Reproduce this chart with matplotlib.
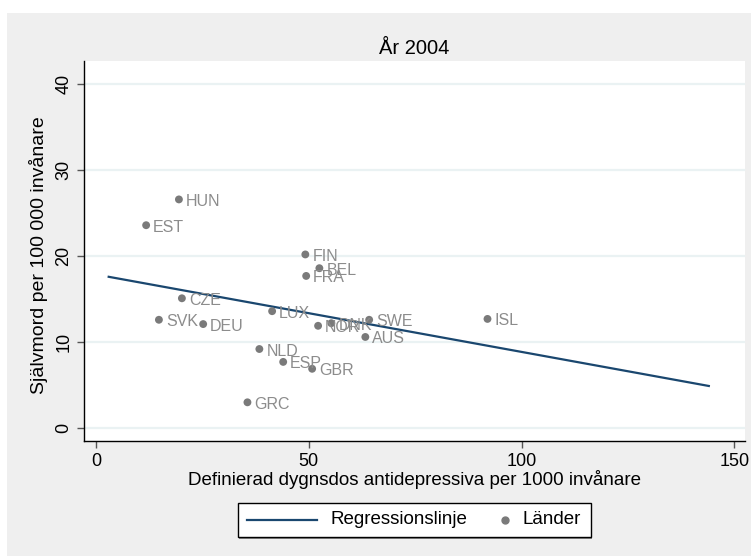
import numpy as np
import matplotlib.pyplot as plt
from matplotlib.patches import Rectangle
from matplotlib.lines import Line2D

# ===============================
# DATA
# ===============================
countries = ["HUN", "EST", "FIN", "BEL", "FRA", "CZE", "SVK", "DEU", "LUX",
             "NOR", "DNK", "SWE", "AUS", "ISL", "NLD", "ESP", "GBR", "GRC"]
ddd = [19.5, 11.8, 49.2, 52.5, 49.4, 20.2, 14.8, 25.2, 41.4,
       52.2, 55.3, 64.2, 63.3, 92.0, 38.4, 44.0, 50.8, 35.6]
suicide = [26.6, 23.6, 20.2, 18.6, 17.7, 15.1, 12.6, 12.1, 13.6,
           11.9, 12.2, 12.6, 10.6, 12.7, 9.2, 7.7, 6.9, 3.0]

# regression line end points
reg_x = [3.0, 144.0]
reg_y = [17.6, 4.9]

x_ticks = [0, 50, 100, 150]
y_ticks = [0, 10, 20, 30, 40]

legend_labels = ["Regressionslinje", "Länder"]

plt.rcParams["font.family"] = ["Liberation Sans", "DejaVu Sans"]

LINE_COL = "#1a476f"
DOT_COL = "#7a7a7a"
LAB_COL = "#8c8c8c"
BG = "#efefef"

# ===============================
# FIGURE
# ===============================
W, H = 751, 556
fig = plt.figure(figsize=(W / 100, H / 100), dpi=100)
fig.patch.set_facecolor("white")


def fx(x):
    return x / W


def fy(y):
    return 1 - y / H


fig.patches.append(Rectangle((fx(7), 0), 1 - fx(7), fy(13),
                             transform=fig.transFigure, facecolor=BG,
                             edgecolor="none", zorder=-10))

ax = fig.add_axes([fx(84), fy(441), fx(745 - 84), (441 - 61) / H])
ax.set_facecolor("white")

for y in y_ticks:
    ax.axhline(y, color="#eaf2f3", lw=1.6, zorder=0)

ax.plot(reg_x, reg_y, color=LINE_COL, lw=1.6, zorder=2)
ax.scatter(ddd, suicide, s=32, color=DOT_COL, edgecolors="none", zorder=3)

for name, x, y in zip(countries, ddd, suicide):
    ax.annotate(name, (x, y), xytext=(7, -2), textcoords="offset pixels",
                ha="left", va="center", fontsize=11.5, color=LAB_COL, zorder=4)

ax.set_xlim(-2.8, 152.5)
ax.set_ylim(-1.5, 42.7)
ax.set_xticks(x_ticks)
ax.set_yticks(y_ticks)
ax.tick_params(axis="both", direction="out", length=5, width=1,
               color="#555555", labelsize=13)
plt.setp(ax.get_yticklabels(), rotation=90, va="center")

for side in ["top", "right"]:
    ax.spines[side].set_visible(False)
for side in ["left", "bottom"]:
    ax.spines[side].set_linewidth(1)

ax.set_xlabel("Definierad dygnsdos antidepressiva per 1000 invånare",
              fontsize=13.5, labelpad=0)
ax.set_ylabel("Självmord per 100 000 invånare", fontsize=14)
ax.yaxis.set_label_coords((48 - 84) / (745 - 84), 1 - (255 - 61) / (441 - 61))
ax.set_title("År 2004", fontsize=14.5, pad=5)

# ===============================
# LEGEND (drawn by hand, Stata layout)
# ===============================
fig.patches.append(Rectangle((fx(239), fy(539)), fx(591 - 238), (539 - 503) / H,
                             transform=fig.transFigure, facecolor="#8a8a8a",
                             edgecolor="none", zorder=5))
fig.patches.append(Rectangle((fx(238), fy(537)), fx(591 - 238), (537 - 503) / H,
                             transform=fig.transFigure, facecolor="white",
                             edgecolor="black", lw=1, zorder=6))
fig.lines.append(Line2D([fx(247), fx(317)], [fy(520), fy(520)],
                        transform=fig.transFigure, color=LINE_COL, lw=1.6,
                        zorder=7))
fig.lines.append(Line2D([fx(505)], [fy(520)], transform=fig.transFigure,
                        color=DOT_COL, marker="o", markersize=5, lw=0,
                        zorder=7))
fig.text(fx(330), fy(520), legend_labels[0], ha="left", va="center",
         fontsize=13.5, zorder=7)
fig.text(fx(522), fy(520), legend_labels[1], ha="left", va="center",
         fontsize=13.5, zorder=7)

fig.savefig("out.png", dpi=100, facecolor=fig.get_facecolor())
